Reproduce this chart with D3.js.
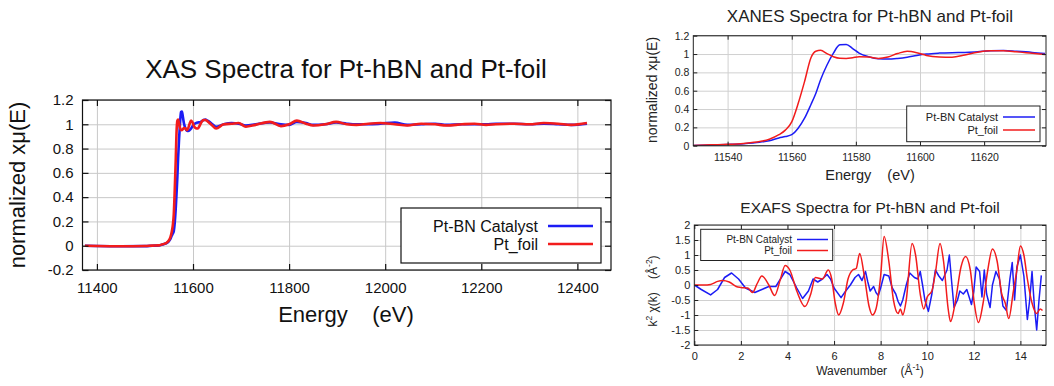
<!DOCTYPE html>
<html><head><meta charset="utf-8">
<script src="https://cdn.jsdelivr.net/npm/d3@7"></script>
<style>
html,body{margin:0;padding:0;background:#fff;}
svg{display:block;font-family:"Liberation Sans",Arial,sans-serif;}
</style></head><body>
<svg id="chart" width="1054" height="386"></svg>
<script>
// ---------------- DATA ----------------
const seriesNames = ["Pt-BN Catalyst", "Pt_foil"];

// XANES region (eV, normalized xμ(E))
const xanesEnergy = [11529, 11535, 11540, 11545, 11550, 11553, 11556, 11558, 11560, 11562, 11564, 11566, 11567.5, 11569, 11571, 11573, 11575, 11577, 11579, 11581, 11584, 11587, 11590, 11593, 11596, 11599, 11602, 11606, 11610, 11614, 11618, 11622, 11626, 11630, 11635, 11639];
const xanesCatalyst = [0.003, 0.008, 0.014, 0.022, 0.038, 0.055, 0.085, 0.1, 0.12, 0.19, 0.3, 0.45, 0.57, 0.72, 0.88, 1.01, 1.1, 1.105, 1.06, 1.01, 0.97, 0.948, 0.945, 0.952, 0.965, 0.985, 1.0, 1.01, 1.015, 1.017, 1.025, 1.035, 1.038, 1.03, 1.018, 1.005];
const xanesFoil = [0.003, 0.01, 0.015, 0.025, 0.045, 0.07, 0.12, 0.17, 0.26, 0.46, 0.70, 0.96, 1.03, 1.04, 1.005, 0.97, 0.953, 0.952, 0.96, 0.97, 0.968, 0.952, 0.968, 1.005, 1.03, 1.015, 0.985, 0.968, 0.965, 0.99, 1.02, 1.035, 1.035, 1.025, 1.008, 0.995];

// pre-edge and post-edge parts of the full XAS scan
const preEdgeEnergy = [11375, 11400, 11450, 11500, 11515];
const preEdgeCatalyst = [0.0, -0.002, -0.004, -0.003, 0.0];
const preEdgeFoil = [0.0, -0.002, -0.004, -0.002, 0.001];
const postEdgeEnergy = [11648, 11664, 11680, 11695, 11710, 11730, 11760, 11783, 11800, 11816, 11835, 11850, 11875, 11898, 11920, 11940, 11965, 11990, 12020, 12046, 12075, 12104, 12128, 12160, 12186, 12210, 12230, 12268, 12300, 12330, 12360, 12387, 12420];
const postEdgeCatalyst = [0.98, 1.0, 1.01, 1.005, 0.99, 1.0, 1.015, 1.0, 0.995, 1.02, 1.01, 0.995, 1.0, 1.015, 1.005, 1.0, 1.0, 1.005, 1.015, 0.995, 1.0, 1.005, 0.995, 1.0, 1.0, 1.0, 1.005, 1.005, 1.0, 1.005, 1.0, 0.995, 1.005];
const postEdgeFoil = [0.965, 1.0, 1.005, 1.01, 0.98, 0.995, 1.02, 0.985, 1.0, 1.03, 1.005, 0.99, 1.0, 1.02, 1.0, 0.995, 1.005, 1.01, 1.0, 0.99, 1.005, 1.0, 0.99, 1.0, 1.005, 0.995, 1.0, 1.005, 1.0, 1.01, 1.005, 0.995, 1.01];

// EXAFS k^2 chi(k)
const exafsKCatalyst = [0, 0.3, 0.7, 1.0, 1.3, 1.6, 1.9, 2.2, 2.6, 2.9, 3.2, 3.5, 3.7, 3.9, 4.1, 4.4, 4.65, 4.9, 5.1, 5.3, 5.5, 5.7, 5.85, 6.0, 6.3, 6.5, 6.7, 6.9, 7.05, 7.2, 7.35, 7.45, 7.55, 7.7, 7.8, 7.9, 8.0, 8.15, 8.35, 8.5, 8.65, 8.75, 8.85, 8.95, 9.1, 9.25, 9.45, 9.6, 9.7, 9.8, 9.9, 10.05, 10.2, 10.35, 10.5, 10.65, 10.85, 10.95, 11.05, 11.15, 11.3, 11.4, 11.55, 11.7, 11.8, 11.9, 12.0, 12.1, 12.25, 12.35, 12.45, 12.55, 12.7, 12.8, 12.95, 13.1, 13.25, 13.4, 13.55, 13.65, 13.75, 13.85, 14.0, 14.15, 14.3, 14.4, 14.5, 14.6, 14.7, 14.8, 14.9];
const exafsCatalyst = [0, -0.15, -0.33, -0.15, 0.25, 0.4, 0.2, -0.1, -0.25, -0.15, -0.05, -0.05, 0.2, 0.45, 0.35, -0.1, -0.45, -0.2, 0.2, 0.1, 0.2, 0.35, 0.2, -0.1, -0.42, -0.2, 0.0, 0.25, 0.35, 0.15, 0.45, 0.1, -0.2, -0.05, -0.25, -0.35, -0.1, 0.35, 0.3, -0.1, -0.3, -0.55, -0.7, -0.5, 0.0, 0.4, 0.25, 0.2, 0.45, 0.0, -0.5, -0.88, -0.3, 0.5, 0.3, 0.15, 0.5, 1.0, 0.1, -0.75, -0.5, -0.2, -0.3, -0.15, -0.4, -0.65, -0.2, 0.6, 0.45, -0.4, 0.5, -0.3, -0.75, 0.0, 0.45, 0.2, -0.7, -0.85, 0.2, 0.75, -0.5, 0.6, 1.0, 0.3, -1.15, -0.5, 0.45, -0.7, -1.5, -0.5, 0.32];
const exafsKFoil = [0, 0.4, 0.7, 1.0, 1.2, 1.5, 1.8, 2.0, 2.3, 2.5, 2.7, 2.9, 3.2, 3.45, 3.7, 3.9, 4.1, 4.4, 4.75, 5.0, 5.2, 5.5, 5.75, 5.9, 6.05, 6.2, 6.4, 6.6, 6.8, 6.95, 7.1, 7.3, 7.5, 7.65, 7.8, 8.0, 8.15, 8.35, 8.55, 8.75, 8.85, 8.95, 9.1, 9.35, 9.5, 9.7, 9.85, 10.0, 10.2, 10.35, 10.55, 10.7, 10.9, 11.0, 11.2, 11.45, 11.65, 11.85, 12.0, 12.2, 12.4, 12.6, 12.8, 13.0, 13.2, 13.35, 13.5, 13.7, 13.85, 14.0, 14.15, 14.3, 14.5, 14.7, 14.85, 14.95];
const exafsFoil = [0, 0.0, 0.02, 0.12, 0.15, 0.1, -0.05, -0.08, -0.1, -0.25, 0.05, 0.3, 0.0, -0.35, 0.2, 0.65, 0.5, -0.2, -0.72, -0.3, 0.25, 0.2, 0.5, 0.2, -0.6, -1.0, -0.6, 0.2, 0.5, 0.55, 1.05, 0.3, -0.7, -1.0, -0.8, 0.3, 1.62, 0.8, -0.5, -0.95, -0.8, -1.0, -0.5, 1.38, 1.0, -0.3, -0.8, -0.4, -0.2, 0.4, 1.38, 0.8, -0.8, -1.22, -0.6, 0.6, 0.95, 0.5, -0.5, -1.25, -0.6, 0.5, 1.2, 0.8, -0.3, -0.6, -1.12, -0.2, 0.5, 1.3, 1.0, 0.2, -0.6, -0.95, -0.8, -0.85];

// ticks
const mainXTicks = [11400, 11600, 11800, 12000, 12200, 12400];
const mainYTicks = [-0.2, 0, 0.2, 0.4, 0.6, 0.8, 1, 1.2];
const mainYTickLabels = ["-0.2", "0", "0.2", "0.4", "0.6", "0.8", "1", "1.2"];
const xanesXTicks = [11540, 11560, 11580, 11600, 11620];
const xanesYTicks = [0, 0.2, 0.4, 0.6, 0.8, 1, 1.2];
const xanesYTickLabels = ["0", "0.2", "0.4", "0.6", "0.8", "1", "1.2"];
const exafsXTicks = [0, 2, 4, 6, 8, 10, 12, 14];
const exafsYTicks = [-2, -1.5, -1, -0.5, 0, 0.5, 1, 1.5, 2];
const exafsYTickLabels = ["-2", "-1.5", "-1", "-0.5", "0", "0.5", "1", "1.5", "2"];

const BLUE = "#1c1cf5", RED = "#f21c1c";

// full XAS scan built from pieces
const mainEnergy = preEdgeEnergy.concat(xanesEnergy, postEdgeEnergy);
const mainCatalyst = preEdgeCatalyst.concat(xanesCatalyst, postEdgeCatalyst);
const mainFoil = preEdgeFoil.concat(xanesFoil, postEdgeFoil);

// ---------------- DRAW ----------------
const svg = d3.select('#chart');
const defs = svg.append('defs');

function drawPanel(cfg) {
  const x = d3.scaleLinear().domain(cfg.xDomain).range([cfg.left, cfg.right]);
  const y = d3.scaleLinear().domain(cfg.yDomain).range([cfg.bottom, cfg.top]);
  const W = cfg.right - cfg.left, H = cfg.bottom - cfg.top;
  const g = svg.append('g');

  // grid
  const gx = g.append('g').attr('transform', `translate(0,${cfg.bottom})`)
    .call(d3.axisBottom(x).tickValues(cfg.xTicks).tickSize(-H).tickFormat(''));
  const gy = g.append('g').attr('transform', `translate(${cfg.left},0)`)
    .call(d3.axisLeft(y).tickValues(cfg.yTicks).tickSize(-W).tickFormat(''));
  [gx, gy].forEach(a => {
    a.select('.domain').remove();
    a.selectAll('line').attr('stroke', cfg.gridColor).attr('stroke-width', 1);
  });

  // lines
  defs.append('clipPath').attr('id', 'clip-' + cfg.id).append('rect')
    .attr('x', cfg.left).attr('y', cfg.top).attr('width', W).attr('height', H);
  const plot = g.append('g').attr('clip-path', `url(#clip-${cfg.id})`);
  cfg.series.forEach(s => {
    plot.append('path').datum(d3.zip(s.x, s.y))
      .attr('fill', 'none').attr('stroke', s.color)
      .attr('stroke-width', cfg.lineWidth).attr('stroke-linejoin', 'round')
      .attr('d', d3.line().x(d => x(d[0])).y(d => y(d[1])).curve(s.curve || d3.curveMonotoneX));
  });

  // frame
  g.append('rect').attr('x', cfg.left).attr('y', cfg.top).attr('width', W).attr('height', H)
    .attr('fill', 'none').attr('stroke', cfg.frameColor).attr('stroke-width', cfg.frameWidth);

  // axes
  const ax = [
    g.append('g').attr('transform', `translate(0,${cfg.bottom})`)
      .call(d3.axisBottom(x).tickValues(cfg.xTicks).tickFormat((d, i) => cfg.xTickLabels[i])
        .tickSizeInner(-cfg.tickLen).tickSizeOuter(0).tickPadding(cfg.xPad)),
    g.append('g').attr('transform', `translate(0,${cfg.top})`)
      .call(d3.axisTop(x).tickValues(cfg.xTicks).tickFormat('').tickSizeInner(-cfg.tickLen).tickSizeOuter(0)),
    g.append('g').attr('transform', `translate(${cfg.left},0)`)
      .call(d3.axisLeft(y).tickValues(cfg.yTicks).tickFormat((d, i) => cfg.yTickLabels[i])
        .tickSizeInner(-cfg.tickLen).tickSizeOuter(0).tickPadding(cfg.yPad)),
    g.append('g').attr('transform', `translate(${cfg.right},0)`)
      .call(d3.axisRight(y).tickValues(cfg.yTicks).tickFormat('').tickSizeInner(-cfg.tickLen).tickSizeOuter(0))
  ];
  ax.forEach(a => {
    a.select('.domain').remove();
    a.attr('font-family', null).attr('font-size', null);
    a.selectAll('line').attr('stroke', cfg.frameColor).attr('stroke-width', cfg.frameWidth);
    a.selectAll('text').attr('fill', cfg.textColor).style('font-size', cfg.tickFont + 'px');
  });

  // title
  g.append('text').attr('x', cfg.title.x).attr('y', cfg.title.y).attr('text-anchor', 'middle')
    .attr('fill', cfg.textColor).style('font-size', cfg.title.size + 'px').text(cfg.title.text);

  // x label
  const xl = g.append('text').attr('x', cfg.xLabel.x).attr('y', cfg.xLabel.y).attr('text-anchor', 'middle')
    .attr('xml:space', 'preserve').style('white-space', 'pre')
    .attr('fill', cfg.textColor).style('font-size', cfg.xLabel.size + 'px');
  cfg.xLabel.parts.forEach(p => {
    const t = xl.append('tspan').text(p.t);
    if (p.sup) t.attr('baseline-shift', 'super').style('font-size', (cfg.xLabel.size * 0.7) + 'px');
  });

  // y label
  const yl = g.append('text').attr('transform', `translate(${cfg.yLabel.x},${cfg.yLabel.y}) rotate(-90)`)
    .attr('text-anchor', 'middle').attr('xml:space', 'preserve').style('white-space', 'pre')
    .attr('fill', cfg.textColor).style('font-size', cfg.yLabel.size + 'px');
  cfg.yLabel.parts.forEach(p => {
    const t = yl.append('tspan').text(p.t);
    if (p.sup) t.attr('baseline-shift', 'super').style('font-size', (cfg.yLabel.size * 0.7) + 'px');
  });

  // legend
  const L = cfg.legend;
  g.append('rect').attr('x', L.x0).attr('y', L.y0).attr('width', L.x1 - L.x0).attr('height', L.y1 - L.y0)
    .attr('fill', '#fff').attr('stroke', cfg.frameColor).attr('stroke-width', cfg.frameWidth);
  cfg.series.forEach((s, i) => {
    const yy = L.ys[i];
    g.append('text').attr('x', L.textX).attr('y', yy).attr('dy', '0.35em').attr('text-anchor', 'end')
      .attr('fill', cfg.textColor).style('font-size', L.size + 'px').text(s.name);
    g.append('line').attr('x1', L.lx0).attr('x2', L.lx1).attr('y1', yy).attr('y2', yy)
      .attr('stroke', s.color).attr('stroke-width', L.lw || cfg.lineWidth);
  });
}

// Main XAS panel
drawPanel({
  id: 'main', left: 82.5, right: 611, top: 100, bottom: 270,
  xDomain: [11370, 12470], yDomain: [-0.2, 1.2],
  xTicks: mainXTicks, xTickLabels: mainXTicks.map(String),
  yTicks: mainYTicks, yTickLabels: mainYTickLabels,
  tickLen: 6, xPad: 12, yPad: 9, tickFont: 15, lineWidth: 2.6,
  gridColor: '#c8c8c8', frameColor: '#111', frameWidth: 1.2, textColor: '#111',
  series: [
    { name: seriesNames[0], x: mainEnergy, y: mainCatalyst, color: BLUE },
    { name: seriesNames[1], x: mainEnergy, y: mainFoil, color: RED }
  ],
  title: { text: 'XAS Spectra for Pt-hBN and Pt-foil', x: 346, y: 78, size: 26 },
  xLabel: { parts: [{ t: 'Energy    (eV)' }], x: 346, y: 322, size: 22 },
  yLabel: { parts: [{ t: 'normalized xμ(E)' }], x: 25, y: 185, size: 22 },
  legend: { x0: 401, y0: 208, x1: 601, y1: 263, textX: 538, lx0: 548, lx1: 593, ys: [226, 244], size: 16 }
});

// XANES panel
drawPanel({
  id: 'xanes', left: 693.3, right: 1046, top: 35.7, bottom: 145.7,
  xDomain: [11529.3, 11639.3], yDomain: [0, 1.2],
  xTicks: xanesXTicks, xTickLabels: xanesXTicks.map(String),
  yTicks: xanesYTicks, yTickLabels: xanesYTickLabels,
  tickLen: 4, xPad: 8, yPad: 4, tickFont: 10.5, lineWidth: 1.5,
  gridColor: '#d0d0d0', frameColor: '#222', frameWidth: 1, textColor: '#222',
  series: [
    { name: seriesNames[0], x: xanesEnergy, y: xanesCatalyst, color: BLUE },
    { name: seriesNames[1], x: xanesEnergy, y: xanesFoil, color: RED }
  ],
  title: { text: 'XANES Spectra for Pt-hBN and Pt-foil', x: 870, y: 22, size: 17 },
  xLabel: { parts: [{ t: 'Energy    (eV)' }], x: 870, y: 180, size: 14.5 },
  yLabel: { parts: [{ t: 'normalized xμ(E)' }], x: 656.5, y: 90, size: 14 },
  legend: { x0: 906.7, y0: 106, x1: 1040, y1: 141.7, textX: 998, lx0: 1003, lx1: 1035, ys: [117, 130], size: 11 }
});

// EXAFS panel
drawPanel({
  id: 'exafs', left: 694.3, right: 1046, top: 225, bottom: 345,
  xDomain: [0, 15.1], yDomain: [-2, 2],
  xTicks: exafsXTicks, xTickLabels: exafsXTicks.map(String),
  yTicks: exafsYTicks, yTickLabels: exafsYTickLabels,
  tickLen: 4, xPad: 7, yPad: 4, tickFont: 11, lineWidth: 1.5,
  gridColor: '#d0d0d0', frameColor: '#222', frameWidth: 1, textColor: '#222',
  series: [
    { name: seriesNames[0], x: exafsKCatalyst, y: exafsCatalyst, color: BLUE, curve: d3.curveLinear },
    { name: seriesNames[1], x: exafsKFoil, y: exafsFoil, color: RED }
  ],
  title: { text: 'EXAFS Spectra for Pt-hBN and Pt-foil', x: 870, y: 213, size: 15.5 },
  xLabel: { parts: [{ t: 'Wavenumber    (Å' }, { t: '-1', sup: true }, { t: ')' }], x: 870, y: 375, size: 12 },
  yLabel: { parts: [{ t: 'k' }, { t: '2', sup: true }, { t: ' χ(k)    (Å' }, { t: '-2', sup: true }, { t: ')' }], x: 657, y: 291, size: 12 },
  legend: { x0: 700.7, y0: 229.3, x1: 832.7, y1: 260.5, textX: 792, lx0: 797, lx1: 828, ys: [239.5, 250.5], size: 10 }
});
</script>
</body></html>
